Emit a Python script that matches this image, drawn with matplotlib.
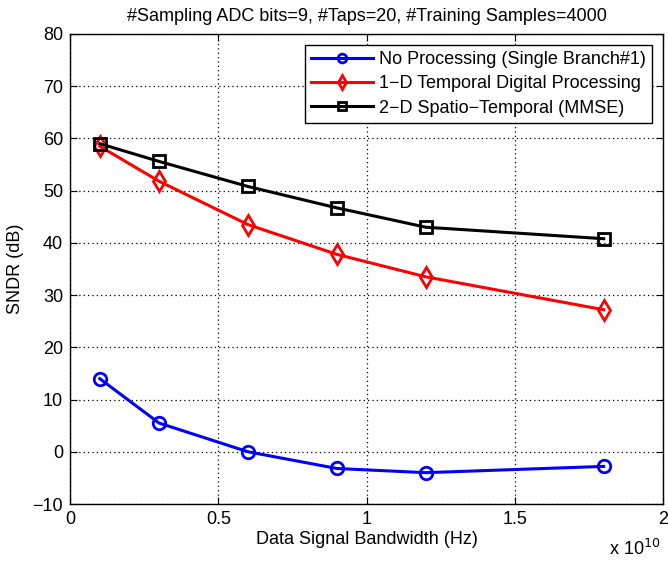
import matplotlib
matplotlib.use("Agg")
import matplotlib.pyplot as plt
from matplotlib.ticker import FuncFormatter

# --- Data -----------------------------------------------------------------

bandwidth_hz = [0.1e10, 0.3e10, 0.6e10, 0.9e10, 1.2e10, 1.8e10]
sndr_no_proc = [14.0, 5.5, 0.0, -3.2, -4.0, -2.8]
sndr_1d = [58.5, 51.8, 43.5, 37.8, 33.5, 27.2]
sndr_2d = [59.0, 55.6, 50.8, 46.7, 43.0, 40.8]

labels = [
    "No Processing (Single Branch#1)",
    "1\u2212D Temporal Digital Processing",
    "2\u2212D Spatio\u2212Temporal (MMSE)",
]

FS = 13

plt.rcParams["font.family"] = ["Liberation Sans", "DejaVu Sans"]
plt.rcParams["axes.unicode_minus"] = True

fig = plt.figure(figsize=(6.68, 5.61), dpi=100)
ax = fig.add_axes([0.105, 0.1016, 0.8875, 0.8378])

ax.plot(bandwidth_hz, sndr_no_proc, color="#0000ff", marker="o", ms=9,
        mfc="none", mew=2, lw=2.2, label=labels[0])
ax.plot(bandwidth_hz, sndr_1d, color="#ff0000", marker="d", ms=10,
        mfc="none", mew=2, lw=2.2, label=labels[1])
ax.plot(bandwidth_hz, sndr_2d, color="black", marker="s", ms=8,
        mfc="none", mew=2, lw=2.2, label=labels[2])

ax.set_xlim(0, 2e10)
ax.set_ylim(-10, 80)
ax.set_xticks([0, 0.5e10, 1e10, 1.5e10, 2e10])
ax.set_yticks(range(-10, 81, 10))
ax.xaxis.set_major_formatter(FuncFormatter(lambda v, p: f"{v / 1e10:g}"))
ax.yaxis.set_major_formatter(FuncFormatter(
    lambda v, p: f"{int(v)}".replace("-", "\u2212")))

ax.grid(True, color="black", linestyle=(0, (1, 2.5)), linewidth=0.9)
ax.tick_params(direction="in", top=True, right=True, labelsize=FS,
               length=5, width=0.8, pad=5)
for s in ax.spines.values():
    s.set_linewidth(1.0)

ax.set_xlabel("Data Signal Bandwidth (Hz)", fontsize=FS, labelpad=2)
ax.set_ylabel("SNDR (dB)", fontsize=FS, labelpad=6)
ax.set_title("#Sampling ADC bits=9, #Taps=20, #Training Samples=4000",
             fontsize=FS, pad=9)
fig.text(0.912, 0.01, r"x 10$^{10}$", fontsize=FS)

leg = ax.legend(loc="upper right", fontsize=FS, fancybox=False,
                edgecolor="black", framealpha=1, borderaxespad=0.6,
                handlelength=3.4, borderpad=0.35, labelspacing=0.4,
                handletextpad=0.35, markerscale=0.7)
leg.get_frame().set_linewidth(1.0)

fig.savefig("out.png", dpi=100)
